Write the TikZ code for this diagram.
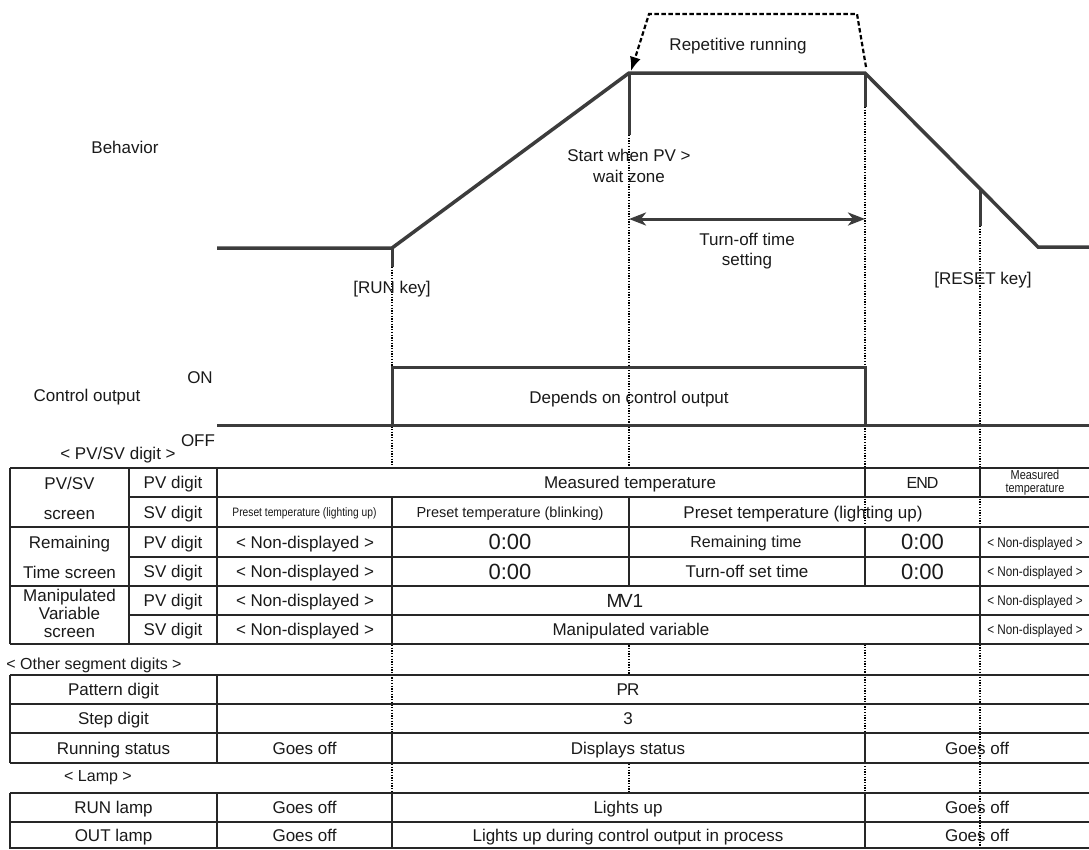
\documentclass[tikz,border=0pt]{standalone}
\usepackage{fontspec}
\setmainfont{Liberation Sans}
\newfontfamily\narrowfont[FakeStretch=0.84]{Liberation Sans}
\usetikzlibrary{arrows.meta}
\definecolor{wavec}{HTML}{3C3C3C}
\definecolor{tabc}{HTML}{262626}
\definecolor{txtc}{HTML}{1A1A1A}
\tikzset{
  wave/.style={draw=wavec, line width=3.5pt, line join=miter},
  ctl/.style={draw=wavec, line width=3pt, line join=miter},
  tickln/.style={draw=wavec, line width=3pt},
  dotln/.style={draw=black, line width=1.3pt, dash pattern=on 1.3pt off 1.4pt},
  dashln/.style={draw=black, line width=2.2pt, dash pattern=on 4.5pt off 2.5pt},
  grid/.style={draw=tabc, line width=1.8pt},
  lblm/.style={inner sep=0pt, text=txtc, font=\fontsize{17}{20.5}\selectfont, align=center},
  lbl/.style={inner sep=0pt, text=txtc, font=\fontsize{17}{20.5}\selectfont, text height=12.2pt, text depth=0pt},
  mid/.style={lbl, font=\fontsize{16}{18}\selectfont, text height=11.5pt},
  sml/.style={lbl, font=\fontsize{14.5}{16}\selectfont, text height=10.4pt},
  big/.style={lbl, font=\fontsize{22}{24}\selectfont, text height=15.8pt},
  nar/.style={lbl, font=\narrowfont\fontsize{14}{15}\selectfont, text height=10pt},
  narm/.style={lblm, font=\narrowfont\fontsize{13}{13}\selectfont},
  narl/.style={lbl, font=\narrowfont\fontsize{12.2}{13}\selectfont, text height=8.7pt}
}
\begin{document}
\begin{tikzpicture}[x=1pt,y=-1pt]
\useasboundingbox (0,0) rectangle (1089,849);
\fill[white] (0,0) rectangle (1089,849);

% ---------- key points ----------
\coordinate (b0) at (217,248);
\coordinate (b1) at (392,248);
\coordinate (b2) at (629,73);
\coordinate (b3) at (865,73);
\coordinate (b4) at (1038,247);
\coordinate (b5) at (1089,247);
\coordinate (k1) at (392,267);
\coordinate (k2) at (629,135);
\coordinate (k3) at (865,107);
\coordinate (r0) at (980,189);
\coordinate (k4) at (980,226);
\coordinate (d1) at (392,849);
\coordinate (d2) at (629,849);
\coordinate (d3) at (865,849);
\coordinate (d4) at (980,849);

% ---------- dotted time markers ----------
\draw[dotln] (k1) -- (d1);
\draw[dotln] (k2) -- (d2);
\draw[dotln] (k3) -- (d3);
\draw[dotln] (k4) -- (d4);

% ---------- behaviour curve ----------
\draw[wave] (b0) -- (b1) -- (b2) -- (b3) -- (b4) -- (b5);
\draw[tickln] (b1) -- (k1);
\draw[tickln] (b2) -- (k2);
\draw[tickln] (b3) -- (k3);
\draw[tickln] (r0) -- (k4);

% repetitive running loop
\coordinate (q0) at (866,67);
\coordinate (q1) at (857,14);
\coordinate (q2) at (649,14);
\coordinate (q3) at (631,71);
\draw[dashln, -{Latex[length=14pt,width=11pt]}] (q0) -- (q1) -- (q2) -- (q3);

% turn-off time arrow
\coordinate (a1) at (629,219);
\coordinate (a2) at (865,219);
\draw[draw=wavec, line width=3pt, {Stealth[length=17pt,width=13pt,inset=5pt]}-{Stealth[length=17pt,width=13pt,inset=5pt]}] (a1) -- (a2);

% ---------- control output ----------
\coordinate (c0) at (217,425);
\coordinate (c1) at (392,425);
\coordinate (c2) at (392,367);
\coordinate (c3) at (865,367);
\coordinate (c4) at (865,425);
\coordinate (c5) at (1089,425);
\draw[ctl] (c0) -- (c5);
\draw[ctl] (c1) -- (c2) -- (c3) -- (c4);

% ---------- upper labels ----------
\node[lbl] (behavior) at (125,147) {Behavior};
\node[lbl] (runkey) at (392,287) {[RUN key]};
\node[lblm] (startpv) at (629,166) {Start when PV >\\wait zone};
\node[lbl] (repet) at (738,44) {Repetitive running};
\node[lblm] (turnoff) at (747,251) {Turn-off time\\setting};
\node[lbl] (resetkey) at (983,278) {[RESET key]};
\node[lbl] (ctrl) at (87,395) {Control output};
\node[lbl] (on) at (200,377) {ON};
\node[lbl] (off) at (198,440) {OFF};
\node[lbl] (pvsvhead) at (118,453) {< PV/SV digit >};
\node[lbl] (depends) at (629,397) {Depends on control output};

% ---------- hide markers behind some cells ----------
\fill[white] (217,468) rectangle (865,497);
\fill[white] (392,586) rectangle (980,644);
\fill[white] (620,675) rectangle (638,733);
\fill[white] (392,733) rectangle (865,763);
\fill[white] (392,793) rectangle (865,849);

% ---------- table 1 grid ----------
\draw[grid] (10,468) -- (1089,468);
\draw[grid] (129,497) -- (1089,497);
\draw[grid] (10,527) -- (1089,527);
\draw[grid] (129,557) -- (1089,557);
\draw[grid] (10,586) -- (1089,586);
\draw[grid] (129,615) -- (1089,615);
\draw[grid] (10,644) -- (1089,644);
\draw[grid] (10,468) -- (10,644);
\draw[grid] (129,468) -- (129,644);
\draw[grid] (217,468) -- (217,644);
\draw[grid] (392,497) -- (392,644);
\draw[grid] (629,497) -- (629,586);
\draw[grid] (865,468) -- (865,497);
\draw[grid] (865,527) -- (865,586);
\draw[grid] (980,468) -- (980,497);
\draw[grid] (980,527) -- (980,644);

% ---------- table 1 text ----------
\node[lbl] (s1a) at (69.5,483.5) {PV/SV};
\node[lbl] (s1b) at (69.5,513) {screen};
\node[lbl] (s2a) at (69.5,542.5) {Remaining};
\node[lbl] (s2b) at (69.5,572) {Time screen};
\node[lblm, font=\fontsize{17}{18}\selectfont] (s3) at (69.5,613) {Manipulated\\Variable\\screen};
\node[lbl] (p1) at (173,482.5) {PV digit};
\node[lbl] (p2) at (173,512) {SV digit};
\node[lbl] (p3) at (173,542) {PV digit};
\node[lbl] (p4) at (173,571.5) {SV digit};
\node[lbl] (p5) at (173,600.5) {PV digit};
\node[lbl] (p6) at (173,629.5) {SV digit};

\node[lbl] (m1) at (630,482.5) {Measured temperature};
\node[mid] (end) at (922.5,482.5) {E\kern-1pt N\kern-1pt D};
\node[narm] (m2) at (1035,482.5) {Measured\\temperature};

\node[narl] (pr1) at (304.5,512) {Preset temperature (lighting up)};
\node[sml] (pr2) at (510,512) {Preset temperature (blinking)};
\node[lbl] (pr3) at (803,512) {Preset temperature (lighting up)};

\node[lbl] (n1) at (305,542) {< Non-displayed >};
\node[big] (z1) at (510,542) {0:00};
\node[mid] (rt) at (746,542) {Remaining time};
\node[big] (z2) at (922.5,542) {0:00};
\node[nar] (n2) at (1035,542) {< Non-displayed >};

\node[lbl] (n3) at (305,571.5) {< Non-displayed >};
\node[big] (z3) at (510,571.5) {0:00};
\node[lbl] (ts) at (747,571.5) {Turn-off set time};
\node[big] (z4) at (922.5,571.5) {0:00};
\node[nar] (n4) at (1035,571.5) {< Non-displayed >};

\node[lbl] (n5) at (305,600.5) {< Non-displayed >};
\node[lbl, font=\fontsize{19}{20}\selectfont, text height=13.6pt] (mv) at (625,600.5) {M\kern-2.5pt V1};
\node[nar] (n6) at (1035,600.5) {< Non-displayed >};

\node[lbl] (n7) at (305,629.5) {< Non-displayed >};
\node[lbl] (mvar) at (631,629.5) {Manipulated variable};
\node[nar] (n8) at (1035,629.5) {< Non-displayed >};

% ---------- other segment digits ----------
\node[lbl, font=\fontsize{16}{18}\selectfont, text height=11.5pt] (osd) at (94,664) {< Other segment digits >};
\draw[grid] (10,675) -- (1089,675);
\draw[grid] (10,704) -- (1089,704);
\draw[grid] (10,733) -- (1089,733);
\draw[grid] (10,763) -- (1089,763);
\draw[grid] (10,675) -- (10,763);
\draw[grid] (217,675) -- (217,763);
\draw[grid] (392,733) -- (392,763);
\draw[grid] (865,733) -- (865,763);

\node[lbl] (pd) at (113.5,689.5) {Pattern digit};
\node[lbl] (prv) at (628,689.5) {P\kern-1pt R};
\node[lbl] (sd) at (113.5,718.5) {Step digit};
\node[lbl] (sv) at (628,718.5) {3};
\node[lbl] (rs) at (113.5,748) {Running status};
\node[lbl] (go1) at (304.5,748) {Goes off};
\node[lbl] (ds) at (628,748) {Displays status};
\node[lbl] (go2) at (977,748) {Goes off};

% ---------- lamp ----------
\node[lbl, font=\fontsize{16}{18}\selectfont, text height=11.5pt] (lamp) at (98,776) {< Lamp >};
\draw[grid] (10,793) -- (1089,793);
\draw[grid] (10,822) -- (1089,822);
\draw[grid] (10,848) -- (1089,848);
\draw[grid] (10,793) -- (10,849);
\draw[grid] (217,793) -- (217,849);
\draw[grid] (392,793) -- (392,849);
\draw[grid] (865,793) -- (865,849);

\node[lbl] (rl) at (113.5,807.5) {RUN lamp};
\node[lbl] (go3) at (304.5,807.5) {Goes off};
\node[lbl] (lu) at (628,807.5) {Lights up};
\node[lbl] (go4) at (977,807.5) {Goes off};
\node[lbl] (ol) at (113.5,835.5) {OUT lamp};
\node[lbl] (go5) at (304.5,835.5) {Goes off};
\node[lbl] (lud) at (628,835.5) {Lights up during control output in process};
\node[lbl] (go6) at (977,835.5) {Goes off};
\end{tikzpicture}
\end{document}
